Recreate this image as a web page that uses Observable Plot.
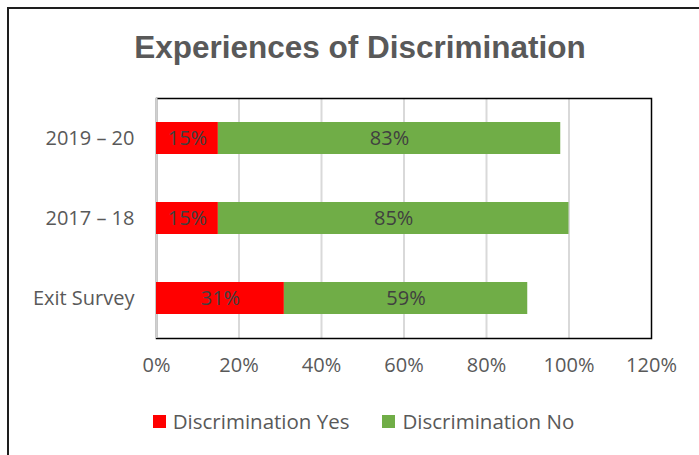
<!DOCTYPE html>
<html>
<head>
<meta charset="utf-8">
<script src="https://cdn.jsdelivr.net/npm/d3@7"></script>
<script src="https://cdn.jsdelivr.net/npm/@observablehq/plot@0.6"></script>
<style>
  html, body { margin: 0; padding: 0; background: #fff; overflow: hidden; }
  #wrap { position: relative; width: 699px; height: 455px; overflow: hidden; font-family: "Open Sans", sans-serif; }
  #border { position: absolute; left: 7px; top: 7px; width: 760px; height: 520px; border-top: 2px solid #1e1e1e; border-left: 2px solid #1e1e1e; box-sizing: border-box; }
  #title { position: absolute; left: 0; width: 720px; top: 29px; text-align: center; font-family: "Liberation Sans", Arial, sans-serif; font-weight: bold; font-size: 31.5px; color: #595959; }
  #chart { position: absolute; left: 0; top: 0; }
  #legend { position: absolute; top: 407px; left: 0; width: 727px; display: flex; justify-content: center; gap: 33px; font-size: 20.5px; color: #595959; }
  .item { display: flex; align-items: center; gap: 7px; }
  .sw { width: 13px; height: 13px; display: inline-block; }
</style>
</head>
<body>
<div id="wrap">
  <div id="border"></div>
  <div id="title"></div>
  <div id="chart"></div>
  <div id="legend"></div>
</div>
<script>
const title = "Experiences of Discrimination";
const categories = ["2019 – 20", "2017 – 18", "Exit Survey"];
const yesValues = [15, 15, 31];
const noValues = [83, 85, 59];
const seriesNames = ["Discrimination Yes", "Discrimination No"];
const seriesColors = ["#FF0000", "#70AD47"];
const xTicks = [0, 20, 40, 60, 80, 100, 120];

const rows = [];
categories.forEach((c, i) => {
  rows.push({cat: c, series: seriesNames[0], value: yesValues[i]});
  rows.push({cat: c, series: seriesNames[1], value: noValues[i]});
});

document.getElementById("title").textContent = title;

const chart = Plot.plot({
  width: 699,
  height: 455,
  marginTop: 98,
  marginBottom: 117,
  marginLeft: 156,
  marginRight: 48,
  style: {fontFamily: "'Open Sans', sans-serif", fontSize: "20px", color: "#595959", background: "transparent", overflow: "visible"},
  x: {domain: [0, 120], ticks: xTicks, tickFormat: d => d + "%", tickSize: 0, tickPadding: 19, label: null},
  y: {domain: categories, paddingInner: 0.6, paddingOuter: 0.3, tickSize: 0, tickPadding: 22, label: null},
  color: {domain: seriesNames, range: seriesColors},
  marks: [
    Plot.ruleX(xTicks.slice(1, -1), {stroke: "#d9d9d9", strokeWidth: 2}),
    Plot.frame({stroke: "#000", strokeWidth: 1.5}),
    Plot.ruleX([0], {stroke: "#d0d0d0", strokeWidth: 2}),
    Plot.barX(rows, Plot.stackX({x: "value", y: "cat", fill: "series", order: seriesNames})),
    Plot.text(rows, Plot.stackX({x: "value", y: "cat", z: "series", order: seriesNames, text: d => d.value + "%", fill: "#404040", fontSize: 20})),
    Plot.axisX({ticks: xTicks, tickFormat: d => d + "%", tickSize: 0, tickPadding: 19, fontSize: 20}),
    Plot.axisY({tickSize: 0, tickPadding: 22, fontSize: 20})
  ]
});
document.getElementById("chart").appendChild(chart);

const legend = document.getElementById("legend");
seriesNames.forEach((n, i) => {
  const it = document.createElement("div");
  it.className = "item";
  const sw = document.createElement("span");
  sw.className = "sw";
  sw.style.background = seriesColors[i];
  const t = document.createElement("span");
  t.textContent = n;
  it.appendChild(sw);
  it.appendChild(t);
  legend.appendChild(it);
});
</script>
</body>
</html>
